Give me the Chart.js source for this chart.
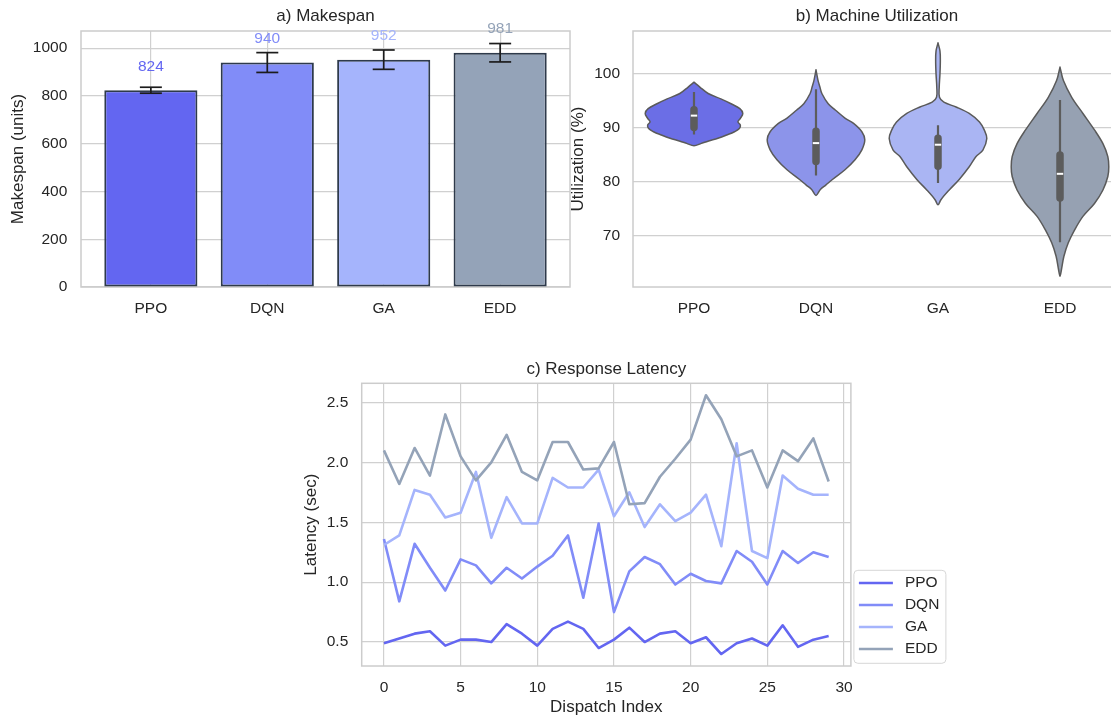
<!DOCTYPE html>
<html>
<head>
<meta charset="utf-8">
<title>Scheduler comparison</title>
<script src="https://cdn.jsdelivr.net/npm/chart.js@4.4.1/dist/chart.umd.min.js"></script>
<style>
  html, body { margin: 0; padding: 0; background: #ffffff; }
  body { position: relative; width: 1111px; height: 715px; overflow: hidden; }
  canvas { position: absolute; }
  #makespanChart { left: 0; top: 0; }
  #utilChart { left: 560px; top: 0; }
  #latencyChart { left: 290px; top: 350px; }
</style>
</head>
<body>
<canvas id="makespanChart" width="600" height="330"></canvas>
<canvas id="utilChart" width="600" height="330"></canvas>
<canvas id="latencyChart" width="680" height="380"></canvas>
<script>
// ---- data ----
const methods = ['PPO', 'DQN', 'GA', 'EDD'];

// a) makespan: mean and standard deviation per method
const makespanMean = [824, 940, 952, 981];
const makespanErr = [12.5, 41.5, 40.5, 38.5];
const makespanTicks = [0, 200, 400, 600, 800, 1000];

// b) utilization distributions: density outline (level, relative half-width)
const ppoViolinUtil  = [98.4, 97.5, 96.3, 95.3, 94.4, 93.5, 92.6, 91.7, 91.05, 90.45, 89.8, 89.2, 88.6, 88.0, 87.5, 87.05, 86.6];
const ppoViolinWidth = [0, 0.12, 0.29, 0.55, 0.76, 0.94, 1.0, 0.95, 0.90, 0.95, 0.93, 0.83, 0.67, 0.49, 0.30, 0.15, 0];
const dqnViolinUtil  = [100.7, 98.8, 97.5, 96.3, 94.4, 93.2, 91.7, 90.75, 89.2, 87.7, 85.85, 84.0, 82.2, 80.3, 79.3, 78.5, 77.4];
const dqnViolinWidth = [0, 0.04, 0.08, 0.12, 0.25, 0.40, 0.60, 0.77, 0.94, 1.0, 0.94, 0.80, 0.60, 0.33, 0.20, 0.09, 0];
const gaViolinUtil   = [105.7, 104.2, 102.4, 99.9, 97.5, 95.6, 94.7, 93.8, 92.6, 91.0, 89.5, 87.95, 85.8, 84.6, 82.7, 80.3, 78.4, 76.6, 75.65];
const gaViolinWidth  = [0, 0.04, 0.048, 0.04, 0.025, 0.03, 0.12, 0.37, 0.64, 0.85, 0.95, 1.0, 0.92, 0.78, 0.64, 0.43, 0.23, 0.06, 0];
const eddViolinUtil  = [101.2, 98.7, 95.6, 92.6, 89.5, 87.0, 84.6, 82.7, 80.9, 78.4, 75.95, 73.5, 71.0, 68.6, 66.1, 63.65, 62.4];
const eddViolinWidth = [0, 0.07, 0.24, 0.47, 0.71, 0.88, 0.98, 1.0, 0.98, 0.88, 0.71, 0.47, 0.30, 0.17, 0.08, 0.03, 0];

// b) inner box summaries
const utilWhiskerLow  = [88.7, 81.1, 79.7, 68.7];
const utilWhiskerHigh = [96.6, 97.1, 90.4, 95.1];
const utilQ1          = [90.0, 83.7, 82.8, 76.9];
const utilQ3          = [93.3, 89.3, 88.0, 84.9];
const utilMedian      = [92.2, 87.1, 86.8, 81.4];
const utilTicks = [70, 80, 90, 100];

// c) response latency per dispatch
const dispatchIndex = [0, 1, 2, 3, 4, 5, 6, 7, 8, 9, 10, 11, 12, 13, 14, 15, 16, 17, 18, 19, 20, 21, 22, 23, 24, 25, 26, 27, 28, 29];
const latencyPPO = [0.49, 0.53, 0.57, 0.59, 0.47, 0.52, 0.52, 0.50, 0.65, 0.57, 0.47, 0.61, 0.67, 0.61, 0.45, 0.52, 0.62, 0.50, 0.57, 0.59, 0.49, 0.54, 0.40, 0.49, 0.53, 0.47, 0.64, 0.46, 0.52, 0.55];
const latencyDQN = [1.36, 0.84, 1.32, 1.12, 0.93, 1.19, 1.14, 0.99, 1.12, 1.03, 1.13, 1.22, 1.39, 0.87, 1.49, 0.75, 1.09, 1.21, 1.15, 0.98, 1.07, 1.01, 0.99, 1.26, 1.17, 0.98, 1.26, 1.16, 1.25, 1.21];
const latencyGA  = [1.31, 1.39, 1.77, 1.73, 1.54, 1.58, 1.92, 1.37, 1.71, 1.49, 1.49, 1.87, 1.79, 1.79, 1.94, 1.55, 1.75, 1.46, 1.65, 1.51, 1.58, 1.73, 1.30, 2.16, 1.26, 1.20, 1.89, 1.78, 1.73, 1.73];
const latencyEDD = [2.10, 1.82, 2.12, 1.89, 2.40, 2.05, 1.85, 2.00, 2.23, 1.92, 1.85, 2.17, 2.17, 1.94, 1.95, 2.17, 1.65, 1.66, 1.88, 2.03, 2.19, 2.56, 2.36, 2.05, 2.10, 1.79, 2.10, 2.01, 2.20, 1.84];
const dispatchTicks = [0, 5, 10, 15, 20, 25, 30];
const latencyTicks = [0.5, 1.0, 1.5, 2.0, 2.5];

// ---- styling ----
const FONT = '"Liberation Sans", Arial, Helvetica, sans-serif';
const INK = '#262626';
const GRID = '#d0d0d0';
const SPINE = '#cccccc';
const methodColors = ['#6366f1', '#818cf8', '#a5b4fc', '#94a3b8'];
const violinColors = ['#6b6ee6', '#8c94ea', '#aab5f3', '#96a1b2'];
const violinLine = '#5a5a5a';
const VIOLIN_HALF = 0.4;   // half of the violin width, in category units
const LABEL_LIFT = 100;    // value labels sit this far above their bar (data units)
const TICK_FONT = {family: FONT, size: 15.5};
const TITLE_FONT = {family: FONT, size: 17, weight: 'normal'};

Chart.defaults.font.family = FONT;
Chart.defaults.color = INK;

// light grey box around each plotting area
const framePlugin = {
  id: 'frame',
  beforeDatasetsDraw(chart) {
    const {ctx, chartArea: a} = chart;
    ctx.save();
    ctx.strokeStyle = SPINE;
    ctx.lineWidth = 1.5;
    ctx.strokeRect(a.left, a.top, a.right - a.left, a.bottom - a.top);
    ctx.restore();
  }
};

const fixedTicks = values => scale => { scale.ticks = values.map(v => ({value: v})); };

function baseOptions(title, titlePad) {
  return {
    responsive: false,
    animation: false,
    devicePixelRatio: 1,
    events: [],
    plugins: {
      legend: {display: false},
      tooltip: {enabled: false},
      title: {display: true, fullSize: false, text: title, color: INK, font: TITLE_FONT, padding: titlePad}
    }
  };
}

// ---- a) Makespan ----
const errWhiskers = [];
const errCaps = [];
makespanMean.forEach((v, i) => {
  errWhiskers.push({x: i, y: v - makespanErr[i]}, {x: i, y: v + makespanErr[i]}, {x: i, y: null});
  errCaps.push({x: i, y: v - makespanErr[i]}, {x: i, y: v + makespanErr[i]});
});

const barValueLabels = {
  id: 'barValueLabels',
  afterDatasetsDraw(chart) {
    const {ctx, scales: {x, y}} = chart;
    ctx.save();
    ctx.font = `15.5px ${FONT}`;
    ctx.textAlign = 'center';
    ctx.textBaseline = 'middle';
    makespanMean.forEach((v, i) => {
      ctx.fillStyle = methodColors[i];
      ctx.fillText(String(v), x.getPixelForValue(i), y.getPixelForValue(v + LABEL_LIFT));
    });
    ctx.restore();
  }
};

const optsA = baseOptions('a) Makespan', {top: 6.5, bottom: 4.1});
optsA.layout = {padding: {left: 0, right: 30, top: 0, bottom: 0}};
optsA.scales = {
  x: {
    type: 'linear', min: -0.6, max: 3.6, offset: false,
    afterBuildTicks: fixedTicks(methods.map((_, i) => i)),
    afterFit: s => { s.height = 43; },
    ticks: {callback: v => methods[v], color: INK, font: TICK_FONT, padding: 12, maxRotation: 0, autoSkip: false},
    grid: {color: GRID, lineWidth: 1.2, drawTicks: false, offset: false},
    border: {display: false}
  },
  y: {
    type: 'linear', min: 0, max: 1072,
    afterBuildTicks: fixedTicks(makespanTicks),
    afterFit: s => { s.width = 81; },
    ticks: {color: INK, font: TICK_FONT, padding: 13.7, callback: v => String(v)},
    grid: {color: GRID, lineWidth: 1.2, drawTicks: false},
    border: {display: false},
    title: {display: true, text: 'Makespan (units)', color: INK, font: TITLE_FONT, padding: {top: 8.3, bottom: 0}}
  }
};

new Chart(document.getElementById('makespanChart'), {
  type: 'bar',
  data: {
    datasets: [
      {
        type: 'bar', label: 'Makespan',
        data: makespanMean.map((v, i) => ({x: i, y: v})),
        backgroundColor: methodColors, borderColor: '#2e3a4b', borderWidth: 2, borderSkipped: false,
        barPercentage: 0.8, categoryPercentage: 1, order: 2
      },
      {
        type: 'scatter', label: 'Std. dev.', data: errWhiskers, showLine: true, spanGaps: false,
        borderColor: '#1c1c1c', borderWidth: 1.7, pointRadius: 0, order: 1
      },
      {
        type: 'scatter', label: 'Caps', data: errCaps, showLine: false,
        pointStyle: 'line', pointRadius: 11, pointBorderColor: '#1c1c1c', pointBorderWidth: 1.7, order: 0
      }
    ]
  },
  options: optsA,
  plugins: [framePlugin, barValueLabels]
});

// ---- b) Machine Utilization ----
const violinShapes = [
  [ppoViolinUtil, ppoViolinWidth],
  [dqnViolinUtil, dqnViolinWidth],
  [gaViolinUtil, gaViolinWidth],
  [eddViolinUtil, eddViolinWidth]
];
const utilDatasets = [];
violinShapes.forEach(([util, width], i) => {
  const right = util.map((u, k) => ({x: i + width[k] * VIOLIN_HALF, y: u}));
  const left = util.map((u, k) => ({x: i - width[k] * VIOLIN_HALF, y: u})).reverse().slice(1);
  utilDatasets.push({
    type: 'scatter', label: methods[i], data: right.concat(left),
    showLine: true, fill: 'shape', indexAxis: 'y', tension: 0.35,
    backgroundColor: violinColors[i], borderColor: violinLine, borderWidth: 1.5,
    borderCapStyle: 'round', borderJoinStyle: 'round', pointRadius: 0, order: 3
  });
});
const whiskerPts = [];
const boxPts = [];
methods.forEach((_, i) => {
  whiskerPts.push({x: i, y: utilWhiskerLow[i]}, {x: i, y: utilWhiskerHigh[i]}, {x: i, y: null});
  boxPts.push({x: i, y: utilQ1[i]}, {x: i, y: utilQ3[i]}, {x: i, y: null});
});
utilDatasets.push(
  {type: 'scatter', label: 'Whiskers', data: whiskerPts, showLine: true, spanGaps: false,
   borderColor: '#5c5c5c', borderWidth: 2.2, pointRadius: 0, order: 2},
  {type: 'scatter', label: 'IQR', data: boxPts, showLine: true, spanGaps: false,
   borderColor: '#5c5c5c', borderWidth: 7.5, borderCapStyle: 'round', pointRadius: 0, order: 1},
  {type: 'scatter', label: 'Median', data: utilMedian.map((m, i) => ({x: i, y: m})), showLine: false,
   pointStyle: 'line', pointRadius: 3.2, pointBorderColor: '#ffffff', pointBorderWidth: 2, order: 0}
);

const optsB = baseOptions('b) Machine Utilization', {top: 6.5, bottom: 4.1});
optsB.layout = {padding: {left: 0, right: 39, top: 0, bottom: 0}};
optsB.scales = {
  x: {
    type: 'linear', min: -0.5, max: 3.5, offset: false,
    afterBuildTicks: fixedTicks(methods.map((_, i) => i)),
    afterFit: s => { s.height = 43; },
    ticks: {callback: v => methods[v], color: INK, font: TICK_FONT, padding: 12, maxRotation: 0, autoSkip: false},
    grid: {display: false, drawTicks: false},
    border: {display: false}
  },
  y: {
    type: 'linear', min: 60.4, max: 107.9,
    afterBuildTicks: fixedTicks(utilTicks),
    afterFit: s => { s.width = 73; },
    ticks: {color: INK, font: TICK_FONT, padding: 13, callback: v => String(v)},
    grid: {color: GRID, lineWidth: 1.2, drawTicks: false},
    border: {display: false},
    title: {display: true, text: 'Utilization (%)', color: INK, font: TITLE_FONT, padding: {top: 8, bottom: 0}}
  }
};

new Chart(document.getElementById('utilChart'), {
  type: 'scatter',
  data: {datasets: utilDatasets},
  options: optsB,
  plugins: [framePlugin]
});

// ---- c) Response Latency ----
const latencySeries = [latencyPPO, latencyDQN, latencyGA, latencyEDD];

const latencyLegend = {
  id: 'latencyLegend',
  afterDraw(chart) {
    const {ctx, chartArea: a} = chart;
    const w = 92, h = 93;
    const x0 = a.right + 3, y0 = a.bottom - 2.7 - h;
    ctx.save();
    ctx.beginPath();
    ctx.roundRect(x0, y0, w, h, 4);
    ctx.fillStyle = 'rgba(255,255,255,0.8)';
    ctx.fill();
    ctx.strokeStyle = '#d6d6d6';
    ctx.lineWidth = 1;
    ctx.stroke();
    ctx.font = `15.5px ${FONT}`;
    ctx.textBaseline = 'middle';
    ctx.textAlign = 'left';
    chart.data.datasets.forEach((ds, i) => {
      const cy = y0 + 12.7 + i * 22;
      ctx.strokeStyle = ds.borderColor;
      ctx.lineWidth = 2.6;
      ctx.beginPath();
      ctx.moveTo(x0 + 5, cy);
      ctx.lineTo(x0 + 39, cy);
      ctx.stroke();
      ctx.fillStyle = INK;
      ctx.fillText(ds.label, x0 + 51, cy);
    });
    ctx.restore();
  }
};

const optsC = baseOptions('c) Response Latency', {top: 9.1, bottom: 3.8});
optsC.layout = {padding: {left: 0, right: 119.1, top: 0, bottom: 0}};
optsC.scales = {
  x: {
    type: 'linear', min: -1.45, max: 30.45,
    afterBuildTicks: fixedTicks(dispatchTicks),
    afterFit: s => { s.height = 64; },
    ticks: {color: INK, font: TICK_FONT, padding: 12, maxRotation: 0, autoSkip: false},
    grid: {color: GRID, lineWidth: 1.2, drawTicks: false},
    border: {display: false},
    title: {display: true, text: 'Dispatch Index', color: INK, font: TITLE_FONT, padding: {top: 0, bottom: 12.8}}
  },
  y: {
    type: 'linear', min: 0.30, max: 2.66,
    afterBuildTicks: fixedTicks(latencyTicks),
    afterFit: s => { s.width = 71.7; },
    ticks: {color: INK, font: TICK_FONT, padding: 13.4, callback: v => v.toFixed(1)},
    grid: {color: GRID, lineWidth: 1.2, drawTicks: false},
    border: {display: false},
    title: {display: true, text: 'Latency (sec)', color: INK, font: TITLE_FONT, padding: {top: 11.6, bottom: 0}}
  }
};

new Chart(document.getElementById('latencyChart'), {
  type: 'line',
  data: {
    datasets: latencySeries.map((series, i) => ({
      label: methods[i],
      data: series.map((v, k) => ({x: dispatchIndex[k], y: v})),
      borderColor: methodColors[i], backgroundColor: methodColors[i],
      borderWidth: 2.6, borderJoinStyle: 'round', pointRadius: 0, tension: 0, fill: false,
      order: methods.length - 1 - i
    }))
  },
  options: optsC,
  plugins: [framePlugin, latencyLegend]
});
</script>
</body>
</html>
